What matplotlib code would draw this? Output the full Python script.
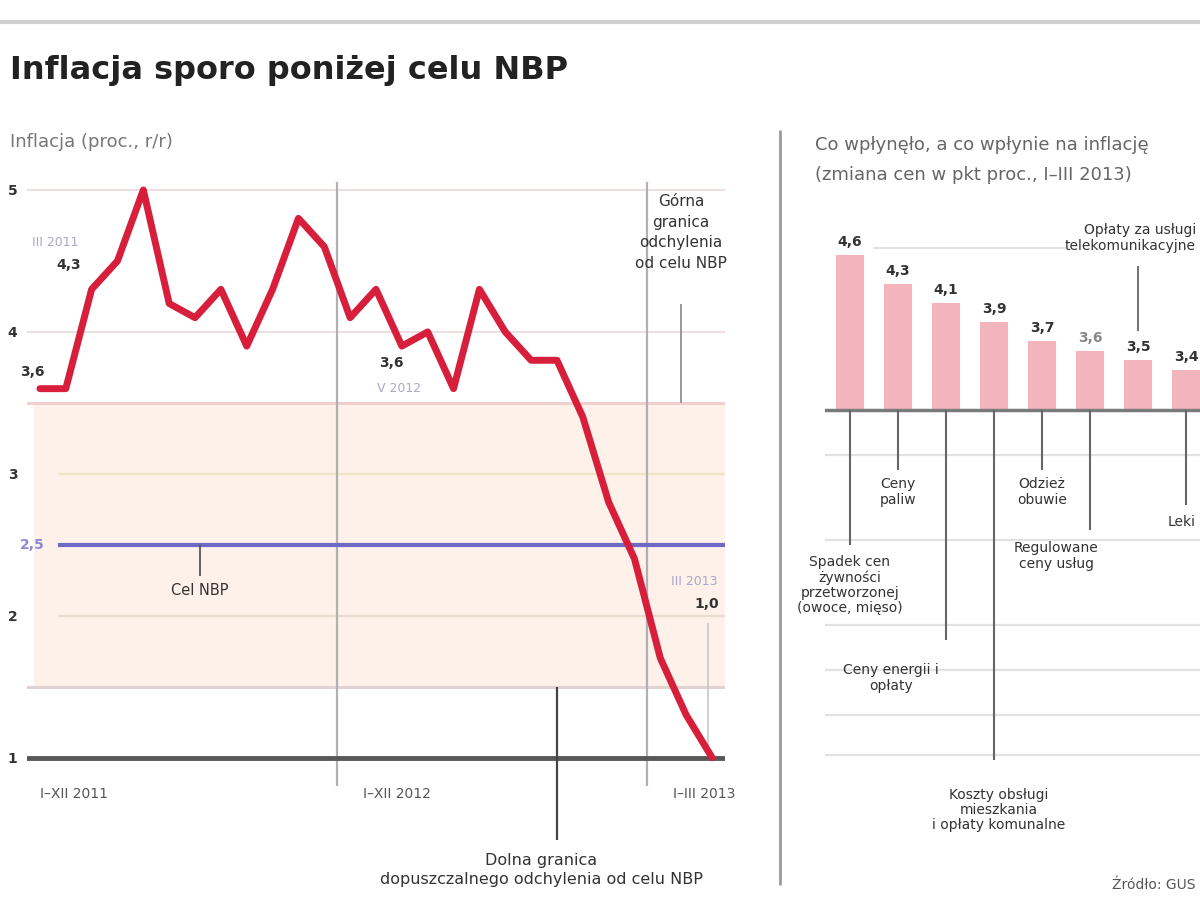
import numpy as np
import matplotlib
matplotlib.use("Agg")
import matplotlib.pyplot as plt
import matplotlib.transforms as mtransforms

# %% data
infl = [3.6, 3.6, 4.3, 4.5, 5.0, 4.2, 4.1, 4.3, 3.9, 4.3, 4.8, 4.6,
        4.1, 4.3, 3.9, 4.0, 3.6, 4.3, 4.0, 3.8, 3.8, 3.4, 2.8, 2.4,
        1.7, 1.3, 1.0]
year_labels = ["I–XII 2011", "I–XII 2012", "I–III 2013"]
year_start = [0, 12, 24]
yticks = [1, 2, 3, 4, 5]
target = 2.5
band = (1.5, 3.5)

pt_idx = [0, 2, 16, 26]
pt_text = ["3,6", "4,3", "3,6", "1,0"]
pt_date = ["", "III 2011", "V 2012", "III 2013"]

bar_vals = [4.6, 4.3, 4.1, 3.9, 3.7, 3.6, 3.5, 3.4]
bar_labels = ["4,6", "4,3", "4,1", "3,9", "3,7", "3,6", "3,5", "3,4"]
bar_base = 2.98
bar_notes = ["Spadek cen\nżywności\nprzetworzonej\n(owoce, mięso)",
             "Ceny\npaliw",
             "Ceny energii i\nopłaty",
             "Koszty obsługi\nmieszkania\ni opłaty komunalne",
             "Odzież\nobuwie",
             "Regulowane\nceny usług",
             "Opłaty za usługi\ntelekomunikacyjne",
             "Leki"]

# %% figure
W, H = 1200, 923
fig = plt.figure(figsize=(W / 100, H / 100), dpi=100)
fig.patch.set_facecolor("white")

def fx(px):
    return px / W

def fy(py):
    return 1 - py / H

# overlay in pixel coords for page furniture
ov = fig.add_axes([0, 0, 1, 1], zorder=-1)
ov.set_xlim(0, W)
ov.set_ylim(H, 0)
ov.axis("off")

# left chart, 142 px per unit
ax = fig.add_axes([fx(27), fy(786), fx(698), (786 - 161.6) / H])
ax.set_xlim(-0.5, 26.5)
ax.set_ylim(0.8, 5.2)
for s in ax.spines.values():
    s.set_visible(False)
ax.set_xticks([])
ax.set_yticks(yticks, [str(t) for t in yticks], fontweight="bold", color="#333333", fontsize=10)
ax.tick_params(axis="y", length=0, pad=7)

ax.axhspan(band[0], band[1], xmin=0.01, color="#fdf1ea", zorder=0)
for y, c, lw, x0 in [(5, "#ecdcdc", 1.3, 0.0), (4, "#ecdcdc", 1.3, 0.0),
                     (3, "#eee5c4", 1.6, 0.047), (2, "#eadbcf", 1.6, 0.047)]:
    ax.axhline(y, xmin=x0, color=c, lw=lw, zorder=1)
ax.axhline(band[1], color="#f2cfcf", lw=2.2, zorder=1)
ax.axhline(band[0], color="#e2d3d3", lw=2.2, zorder=1)
ax.axhline(target, xmin=0.047, color="#6f69c6", lw=3, zorder=2)
ax.axhline(1, color="#585858", lw=3.5, zorder=3)
for x in [11.5, 23.5]:
    ax.axvline(x, ymin=0, ymax=0.966, color="#b0b0b0", lw=1.6, zorder=1)

ax.plot(range(len(infl)), infl, color="#d71f3b", lw=5, zorder=5,
        solid_joinstyle="round", solid_capstyle="round")

for xs, lab in zip(year_start, year_labels):
    ax.text(xs + 0.5 if xs else xs, 0.79, lab, ha="left", va="top",
            fontsize=10, color="#555555")

lab_tr = mtransforms.blended_transform_factory(ov.transData, ax.transData)
ax.text(20, target, "2,5", ha="left", va="center", fontsize=10,
        color="#8c88d4", fontweight="bold", transform=lab_tr)

# data point labels
offs = {0: (-0.3, 0.12), 2: (-0.9, 0.17), 16: (-2.4, 0.18), 26: (-0.2, 1.08)}
for i, t, d in zip(pt_idx, pt_text, pt_date):
    dx, dy = offs[i]
    ax.text(i + dx, infl[i] + dy, t, ha="center", va="center", fontsize=10,
            fontweight="bold", color="#333333", zorder=6)
    if d:
        ddy = -0.18 if i == 16 else 0.16
        ax.text(i + dx + (0.3 if i == 16 else -0.5), infl[i] + dy + ddy, d, ha="center",
                va="center", fontsize=9, color="#a9a9c8", zorder=6)
ax.vlines(26 - 0.15, infl[26] + 0.05, infl[26] + 0.95, color="#c8c8c8", lw=1.2, zorder=4)

# annotations left chart
ax.vlines(6.2, target - 0.22, target, color="#555555", lw=1.3, zorder=4)
ax.text(6.2, target - 0.32, "Cel NBP", ha="center", va="center", fontsize=10.5,
        color="#333333")
ax.vlines(24.8, band[1], band[1] + 0.7, color="#999999", lw=1.4, zorder=4)
ax.text(24.8, band[1] + 1.2, "Górna\ngranica\nodchylenia\nod celu NBP", ha="center",
        va="center", fontsize=11, color="#333333", linespacing=1.45)
ax.vlines(20, 0.42, band[0], color="#444444", lw=1.6, zorder=4, clip_on=False)
ax.text(19.4, 0.21, "Dolna granica\ndopuszczalnego odchylenia od celu NBP",
        ha="center", va="center", fontsize=11.5, color="#333333", linespacing=1.3,
        clip_on=False)

# right chart, 95.8 px per unit, baseline at 410 px
s_px = 95.8
rax = fig.add_axes([fx(825), fy(890), fx(400), (890 - 160) / H])
rax.set_xlim(-0.52, 7.81)
rax.set_ylim(bar_base - 480 / s_px, bar_base + 250 / s_px)
rax.axis("off")

def rv(py):
    return bar_base + (410 - py) / s_px

for py in [455, 540, 625, 670, 715, 755]:
    rax.axhline(rv(py), color="#e2e2e2", lw=1.6, zorder=0)
rax.plot([0.5, 4.5], [rv(248), rv(248)], color="#dddddd", lw=1.2, zorder=0)

rax.bar(range(len(bar_vals)), [v - bar_base for v in bar_vals], bottom=bar_base,
        width=0.6, color="#f4b4bc", zorder=2)
rax.axhline(bar_base, color="#7a7a7a", lw=2.5, zorder=3)
for i, (v, t) in enumerate(zip(bar_vals, bar_labels)):
    rax.text(i, v + 0.06, t, ha="center", va="bottom", fontsize=10,
             fontweight="bold", color="#888888" if i == 5 else "#333333", zorder=4)

line_end = [545, 470, 640, 760, 470, 530, None, 505]
note_y = [585, 492, 678, 810, 492, 556, 238, 522]
note_dx = [0, 0, -1.15, 0.1, 0, -0.7, 0, 0]
note_tr = mtransforms.blended_transform_factory(ov.transData, rax.transData)
for i, (pe, ny, dx, note) in enumerate(zip(line_end, note_y, note_dx, bar_notes)):
    if pe is not None:
        rax.vlines(i, rv(pe), bar_base, color="#666666", lw=1.5, zorder=3)
    else:
        rax.vlines(i, bar_vals[i] + 0.3, rv(ny + 28), color="#777777", lw=1.5, zorder=3)
    if i >= 6:
        rax.text(1196, rv(ny), note, ha="right", va="center", fontsize=10,
                 color="#333333", linespacing=1.1, zorder=5, transform=note_tr)
    else:
        rax.text(i + dx, rv(ny), note, ha="center", va="center", fontsize=10,
                 color="#333333", linespacing=1.1, zorder=5, clip_on=False)

# %% page texts
ov.hlines(22, 0, W, color="#cfcfcf", lw=3)
ov.vlines(780, 130, 885, color="#9a9a9a", lw=2)
fig.text(fx(10), fy(70), "Inflacja sporo poniżej celu NBP", fontsize=23,
         fontweight="bold", color="#222222", va="center", ha="left")
fig.text(fx(10), fy(142), "Inflacja (proc., r/r)", fontsize=13, color="#777777",
         va="center", ha="left")
fig.text(fx(815), fy(145), "Co wpłynęło, a co wpłynie na inflację", fontsize=13,
         color="#666666", va="center", ha="left")
fig.text(fx(815), fy(175), "(zmiana cen w pkt proc., I–III 2013)", fontsize=13,
         color="#666666", va="center", ha="left")
fig.text(fx(1195), fy(885), "Źródło: GUS", fontsize=10, color="#555555",
         va="center", ha="right")

fig.savefig("out.png", dpi=100)
